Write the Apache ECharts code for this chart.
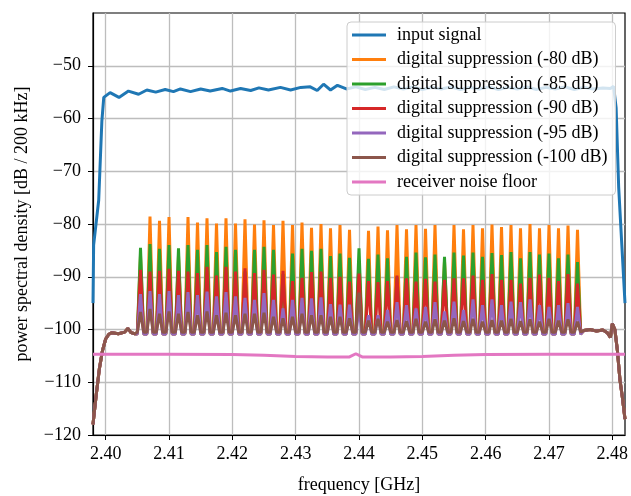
<!DOCTYPE html>
<html>
<head>
<meta charset="utf-8">
<script src="https://cdn.jsdelivr.net/npm/echarts@6/dist/echarts.min.js"></script>
<style>html,body{margin:0;padding:0;background:#fff;}#c{width:631px;height:496px;}</style>
</head>
<body>
<div id="c"></div>
<script>
// ---------- data ----------
const xTicks = [2.40, 2.41, 2.42, 2.43, 2.44, 2.45, 2.46, 2.47, 2.48];
const yTicks = [-120, -110, -100, -90, -80, -70, -60, -50];

const seriesNames = [
  'input signal',
  'digital suppression (-80 dB)',
  'digital suppression (-85 dB)',
  'digital suppression (-90 dB)',
  'digital suppression (-95 dB)',
  'digital suppression (-100 dB)',
  'receiver noise floor'
];

// input signal
const blueF = [2.398, 2.3981, 2.3989, 2.3994, 2.3997, 2.4007, 2.4021, 2.4036, 2.4052, 2.4065, 2.4079, 2.4094, 2.4107, 2.4118, 2.4134, 2.415, 2.4165, 2.4184, 2.4197, 2.4213, 2.4229, 2.4242, 2.4257, 2.4276, 2.4292, 2.4308, 2.4323, 2.4334, 2.4344, 2.4355, 2.4366,
  2.438, 2.4395, 2.441, 2.4425, 2.444, 2.4455, 2.447, 2.4485, 2.45, 2.4515, 2.453, 2.4545, 2.456, 2.4575, 2.459, 2.4605, 2.462, 2.4635, 2.465, 2.4665, 2.468, 2.4695, 2.471, 2.4725, 2.474, 2.4755, 2.477, 2.4785, 2.4797, 2.4802, 2.4806, 2.481, 2.4815, 2.482];
const blueV = [-95, -84, -75.5, -60.5, -56.0, -55.1, -56.0, -54.8, -55.4, -54.6, -55.0, -54.5, -54.9, -54.4, -54.9, -54.4, -54.8, -54.3, -54.8, -54.3, -54.7, -54.2, -54.6, -54.1, -54.6, -54.1, -54.0, -54.7, -53.5, -54.6, -53.7,
  -54.4, -54.0, -54.5, -54.1, -54.5, -54.0, -54.4, -54.0, -54.5, -54.1, -54.4, -54.0, -54.5, -54.1, -54.4, -54.0, -54.5, -54.1, -54.4, -54.0, -54.5, -54.1, -54.4, -54.0, -54.5, -54.1, -54.4, -54.2, -54.3, -53.9, -58, -73, -84, -95];

// channel (spur) centre frequencies
const channelF = [2.4055, 2.407, 2.4085, 2.41, 2.4115, 2.413, 2.4145, 2.416, 2.4175, 2.419, 2.4205, 2.422, 2.4235, 2.425, 2.4265, 2.428, 2.4295, 2.431, 2.4325, 2.434, 2.4355, 2.437, 2.4385, 2.44, 2.4415, 2.443, 2.4445, 2.446, 2.4475, 2.449, 2.4505, 2.452, 2.4535, 2.455, 2.4565, 2.458, 2.4595, 2.461, 2.4625, 2.464, 2.4655, 2.467, 2.4685, 2.47, 2.4715, 2.473, 2.4745];

const peaks80 = [-86, -78.6, -79.4, -78.7, -86, -78.7, -79.7, -78.9, -79.9, -78.9, -79.9, -79.1, -80.1, -79.3, -80.2, -79.4, -80.2, -79.7, -80.7, -80.0, -80.8, -80.2, -81.1, -87, -81.3, -80.5, -81.2, -80.2, -81.0, -80.2, -80.9, -80.2, -87, -80.2, -81.0, -80.2, -80.8, -80.1, -80.6, -80.2, -80.8, -80.0, -80.8, -80.2, -80.8, -80.3, -81.1];
const peaks85 = [-84.5, -83.8, -84.7, -84.0, -84.6, -84.0, -84.9, -84.0, -85.3, -84.3, -84.9, -89.0, -84.9, -84.3, -84.9, -89.5, -85.6, -84.7, -85.1, -84.7, -86.1, -85.6, -86.4, -84.6, -86.6, -85.8, -86.5, -90.0, -86.2, -85.4, -86.3, -85.8, -86.2, -85.4, -86.0, -85.4, -86.2, -85.5, -85.9, -85.3, -86.5, -85.3, -85.8, -85.6, -86.5, -85.8, -87.2];
const peaks90 = [-88.7, -89.0, -88.9, -88.5, -88.9, -89.0, -89.3, -88.1, -89.8, -88.1, -89.0, -88.4, -89.3, -88.7, -89.6, -88.9, -90.8, -90.2, -89.1, -89.0, -90.2, -90.0, -90.9, -89.4, -90.8, -91.0, -90.8, -89.8, -90.3, -90.9, -90.4, -90.9, -90.6, -90.3, -90.3, -89.8, -90.6, -89.5, -90.6, -90.6, -91.3, -90.2, -89.6, -90.2, -90.8, -89.5, -91.3];
const peaks95 = [-93.3, -92.7, -93.3, -92.7, -93.5, -92.9, -93.5, -92.8, -93.7, -92.9, -93.7, -94.0, -94.4, -93.1, -94.4, -96.0, -94.4, -94.0, -94.1, -93.9, -95.2, -95.3, -95.3, -96.0, -97.3, -97.3, -96.3, -94.8, -95.4, -96.0, -95.7, -94.8, -96.6, -94.7, -96.3, -94.3, -95.4, -94.3, -95.4, -94.7, -94.8, -94.3, -95.4, -95.7, -95.4, -95.0, -95.7];
const peaks100 = [-96.7, -96.1, -97.0, -96.6, -97.0, -96.7, -97.3, -96.6, -97.3, -96.8, -97.3, -97.0, -97.0, -96.8, -97.6, -97.9, -97.6, -97.0, -97.3, -97.3, -97.6, -97.6, -97.9, -93.0, -98.3, -98.0, -98.5, -98.2, -98.4, -98.0, -98.5, -98.1, -98.3, -97.9, -98.4, -98.0, -98.5, -98.2, -98.3, -98.0, -98.4, -98.1, -98.5, -98.0, -98.3, -98.1, -98.5];

// floor level between spurs, per series (-80, -85, -90, -95, -100)
const floorLevels = [-100.9, -100.8, -100.7, -100.9, -100.5];

// band edges shared by the suppression curves
const leftEdgeF = [2.398, 2.3985, 2.399, 2.3995, 2.400, 2.4005, 2.401, 2.402, 2.403, 2.4035, 2.404, 2.4046];
const leftEdgeV = [-118, -112.5, -107.5, -104, -101.8, -100.9, -100.6, -100.8, -100.5, -99.8, -100.6, -100.8];
const rightEdgeF = [2.4755, 2.4765, 2.4775, 2.4785, 2.4792, 2.4797, 2.4800, 2.4804, 2.4808, 2.4812, 2.4816, 2.482];
const rightEdgeV = [-100.2, -100.0, -100.3, -100.1, -100.6, -101.5, -98.9, -100.0, -104, -109.5, -113, -117];

// receiver noise floor
const noiseF = [2.398, 2.41, 2.42, 2.425, 2.43, 2.435, 2.4385, 2.4395, 2.4405, 2.445, 2.45, 2.455, 2.46, 2.47, 2.482];
const noiseV = [-104.7, -104.7, -104.75, -104.9, -105.1, -105.2, -105.2, -104.6, -105.2, -105.2, -105.1, -104.9, -104.75, -104.7, -104.7];

// ---------- build ----------
const colors = ['#1f77b4', '#ff7f0e', '#2ca02c', '#d62728', '#9467bd', '#8c564b', '#e377c2'];
const HALF = 0.0005;
function zip(fs, vs) { return fs.map((f, i) => [f, vs[i]]); }
function spurSeries(peaks, floor) {
  const pts = zip(leftEdgeF, leftEdgeV);
  channelF.forEach((f, k) => {
    pts.push([f - HALF, floor]);
    pts.push([f, peaks[k]]);
    pts.push([f + HALF, floor]);
  });
  return pts.concat(zip(rightEdgeF, rightEdgeV));
}
const seriesData = [
  zip(blueF, blueV),
  spurSeries(peaks80, floorLevels[0]),
  spurSeries(peaks85, floorLevels[1]),
  spurSeries(peaks90, floorLevels[2]),
  spurSeries(peaks95, floorLevels[3]),
  spurSeries(peaks100, floorLevels[4]),
  zip(noiseF, noiseV)
];

const FONT = '"Liberation Serif", "Times New Roman", serif';
const FS = 18;
const minus = s => String(s).replace('-', '\u2212');

const chart = echarts.init(document.getElementById('c'), null, { renderer: 'canvas' });
chart.setOption({
  animation: false,
  backgroundColor: '#ffffff',
  textStyle: { fontFamily: FONT, color: '#000' },
  grid: { left: 93, right: 6, top: 13, bottom: 61, show: true, borderColor: '#000', borderWidth: 1.2, containLabel: false, outerBoundsMode: 'none' },
  xAxis: {
    type: 'value', min: 2.398, max: 2.482,
    name: 'frequency [GHz]', nameLocation: 'middle', nameGap: 41,
    nameTextStyle: { fontFamily: FONT, fontSize: FS, color: '#000' },
    axisLine: { show: true, onZero: false, lineStyle: { color: '#000', width: 1.2 } },
    axisTick: { show: true, inside: false, length: 5, customValues: xTicks, lineStyle: { color: '#000', width: 1 } },
    axisLabel: { customValues: xTicks, margin: 10, fontFamily: FONT, fontSize: FS, color: '#000', formatter: v => Number(v).toFixed(2) },
    splitLine: { show: true, lineStyle: { color: '#bdbdbd', width: 1.3 } }
  },
  yAxis: {
    type: 'value', min: -120, max: -40,
    name: 'power spectral density [dB / 200 kHz]', nameLocation: 'middle', nameGap: 62,
    nameTextStyle: { fontFamily: FONT, fontSize: FS, color: '#000' },
    axisLine: { show: true, onZero: false, lineStyle: { color: '#000', width: 1.2 } },
    axisTick: { show: true, inside: false, length: 5, customValues: yTicks, lineStyle: { color: '#000', width: 1 } },
    axisLabel: { customValues: yTicks, margin: 12, fontFamily: FONT, fontSize: FS, color: '#000', formatter: v => minus(Math.round(v)) },
    splitLine: { show: true, lineStyle: { color: '#bdbdbd', width: 1.3 } }
  },
  legend: {
    orient: 'vertical', left: 347, top: 22,
    data: seriesNames,
    itemWidth: 34, itemHeight: 3, itemGap: 6.5,
    icon: 'rect',
    padding: [4, 8, 4, 5],
    backgroundColor: 'rgba(255,255,255,0.8)',
    borderColor: '#cccccc', borderWidth: 1, borderRadius: 4,
    textStyle: { fontFamily: FONT, fontSize: FS, color: '#000', lineHeight: 17, padding: [0, 0, 0, 6] }
  },
  series: seriesNames.map((n, i) => ({
    name: n, type: 'line', data: seriesData[i],
    showSymbol: false, symbol: 'none', clip: true,
    color: colors[i],
    lineStyle: { color: colors[i], width: 3 },
    emphasis: { disabled: true },
    z: 2 + i * 0.01
  }))
});
</script>
</body>
</html>
